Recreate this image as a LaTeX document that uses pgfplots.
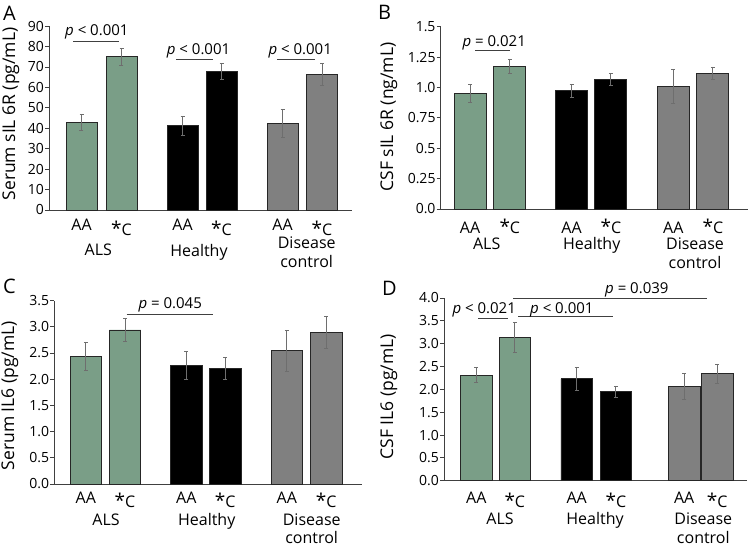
\documentclass[border=0pt]{standalone}
\usepackage{pgfplots}
\pgfplotsset{compat=1.18}
\usepackage{fontspec}
\setmainfont{Open Sans}
\definecolor{grn}{HTML}{7A9E87}
\definecolor{gry}{HTML}{808080}
\definecolor{axc}{HTML}{404040}
\definecolor{errc}{HTML}{6E6E6E}
\newcommand{\sC}[1]{\raisebox{-#1pt}[\height][0pt]{{\fontsize{19}{19}\selectfont *}{\fontsize{16}{16}\selectfont C}}}
\newcommand{\pt}[1]{\fontsize{15}{15}\selectfont #1}
\pgfplotsset{
  panel/.style={
    x=1pt, anchor=south west, clip=false,
    axis x line*=bottom, axis y line*=left,
    axis line style={axc, line width=0.9pt},
    ymin=0,
    xtick style={draw=none},
    ytick style={axc, line width=0.8pt},
    tick align=outside, major tick length=4pt,
    yticklabel style={font=\fontsize{14}{14}\selectfont, inner sep=1pt},
    xticklabel style={font=\fontsize{16}{16}\selectfont, anchor=base, inner sep=0pt},
    ybar, bar shift=0pt,
    every axis plot/.append style={draw=black!85, line width=0.8pt},
    error bars/y dir=both, error bars/y explicit,
    error bars/error bar style={errc, line width=0.7pt},
    error bars/error mark options={errc, line width=0.7pt, mark size=2pt, rotate=90},
  },
}
\begin{document}
\begin{tikzpicture}
\useasboundingbox (0,0) rectangle (750pt,548pt);
% ---------------- A
\begin{axis}[panel, at={(49pt,338pt)}, y=2.044pt, xmin=49, xmax=352, ymax=90,
  ytick={0,10,...,90}, yticklabels={0,10,20,30,40,50,60,70,80,90},
  xtick={81.5,121.5,182.5,221.5,282.5,322}, xticklabels={AA,\sC{5.5},AA,\sC{5.5},AA,\sC{5.5}},
  xticklabel style={yshift=-16.5pt}, bar width=31]
\addplot[fill=grn] coordinates {(81.5,42.9) +- (0,3.7) (121.5,75.0) +- (0,4.0)};
\addplot[fill=black] coordinates {(182.5,41.2) +- (0,4.5) (221.5,67.7) +- (0,3.9)};
\addplot[fill=gry] coordinates {(282.5,42.4) +- (0,7.0) (322,66.4) +- (0,5.5)};
\draw[axc, line width=0.9pt] (axis cs:73,82.3) -- (axis cs:119,82.3);
\draw[axc, line width=0.9pt] (axis cs:176,73.7) -- (axis cs:213,73.7);
\draw[axc, line width=0.9pt] (axis cs:277,73.7) -- (axis cs:315,73.7);
\node[anchor=base west, inner sep=0pt] at (axis cs:65,85.6) {\pt{\textit{p} < 0.001}};
\node[anchor=base west, inner sep=0pt] at (axis cs:166.7,76.2) {\pt{\textit{p} < 0.001}};
\node[anchor=base west, inner sep=0pt] at (axis cs:268.3,76.2) {\pt{\textit{p} < 0.001}};
\end{axis}
% ---------------- B
\begin{axis}[panel, at={(440.7pt,339pt)}, y=121.5pt, xmin=440.7, xmax=748, ymax=1.5,
  ytick={0,0.25,0.5,0.75,1,1.25,1.5}, yticklabels={0.0,0.25,0.5,0.75,1.0,1.25,1.5},
  xtick={470,509.8,571.5,610.8,673.3,712.8}, xticklabels={AA,\sC{0},AA,\sC{0},AA,\sC{0}},
  xticklabel style={yshift=-20.3pt}, bar width=32]
\addplot[fill=grn] coordinates {(470,0.952) +- (0,0.075) (509.8,1.174) +- (0,0.058)};
\addplot[fill=black] coordinates {(571.5,0.974) +- (0,0.052) (610.8,1.064) +- (0,0.05)};
\addplot[fill=gry] coordinates {(673.3,1.010) +- (0,0.14) (712.8,1.119) +- (0,0.05)};
\draw[axc, line width=0.9pt] (axis cs:475,1.303) -- (axis cs:510,1.303);
\node[anchor=base west, inner sep=0pt] at (axis cs:462.3,1.336) {\pt{\textit{p} = 0.021}};
\end{axis}
% ---------------- C
\begin{axis}[panel, at={(54.3pt,64pt)}, y=52.4pt, xmin=54.3, xmax=361.7, ymax=3.5,
  ytick={0,0.5,...,3.5}, yticklabels={0.0,0.5,1.0,1.5,2.0,2.5,3.0,3.5},
  xtick={85.8,125,186.3,225.2,286.8,326.2}, xticklabels={AA,\sC{4},AA,\sC{4},AA,\sC{4}},
  xticklabel style={yshift=-16pt}, bar width=31.5]
\addplot[fill=grn] coordinates {(85.8,2.43) +- (0,0.27) (125,2.94) +- (0,0.22)};
\addplot[fill=black] coordinates {(186.3,2.26) +- (0,0.27) (225.2,2.21) +- (0,0.21)};
\addplot[fill=gry] coordinates {(286.8,2.54) +- (0,0.39) (326.2,2.89) +- (0,0.30)};
\draw[axc, line width=0.9pt] (axis cs:126.7,3.23) -- (axis cs:213.3,3.23);
\node[anchor=base west, inner sep=0pt] at (axis cs:138.3,3.34) {\pt{\textit{p} = 0.045}};
\end{axis}
% ---------------- D
\begin{axis}[panel, at={(444pt,67.3pt)}, y=45.67pt, xmin=444, xmax=746.7, ymax=4,
  ytick={0,0.5,...,4}, yticklabels={0.0,0.5,1.0,1.5,2.0,2.5,3.0,3.5,4.0},
  xtick={476.3,514.8,576.7,615.8,684.2,717.2}, xticklabels={AA,\sC{4},AA,\sC{4},AA,\sC{4}},
  xticklabel style={yshift=-18.6pt}, bar width=31.5]
\addplot[fill=grn] coordinates {(476.3,2.31) +- (0,0.165) (514.8,3.14) +- (0,0.32)};
\addplot[fill=black] coordinates {(576.7,2.23) +- (0,0.25) (615.8,1.95) +- (0,0.12)};
\addplot[fill=gry] coordinates {(684.2,2.07) +- (0,0.28) (717.2,2.34) +- (0,0.215)};
\draw[axc, line width=0.9pt] (axis cs:513,4.0) -- (axis cs:706.7,4.0);
\draw[axc, line width=0.9pt] (axis cs:478,3.55) -- (axis cs:508,3.55);
\draw[axc, line width=0.9pt] (axis cs:518,3.6) -- (axis cs:613,3.6);
\node[anchor=base west, inner sep=0pt] at (axis cs:605,4.09) {\pt{\textit{p} = 0.039}};
\node[anchor=base west, inner sep=0pt] at (axis cs:452.3,3.65) {\pt{\textit{p} < 0.021}};
\node[anchor=base west, inner sep=0pt] at (axis cs:530,3.65) {\pt{\textit{p} < 0.001}};
\end{axis}
% ---------------- labels
\begin{scope}[every node/.style={font=\fontsize{16}{16}\selectfont, anchor=base, inner sep=0pt}]
\node at (98.3pt,292pt) {ALS};
\node at (199pt,291.3pt) {Healthy};
\node at (306.7pt,299.3pt) {Disease};
\node at (306.7pt,280.6pt) {control};
\node at (486.7pt,298.7pt) {ALS};
\node at (591.7pt,298.7pt) {Healthy};
\node at (695pt,298.7pt) {Disease};
\node at (695pt,279.7pt) {control};
\node at (106pt,22.3pt) {ALS};
\node at (206.7pt,22.3pt) {Healthy};
\node at (311.7pt,22.3pt) {Disease};
\node at (311.7pt,4pt) {control};
\node at (500pt,23pt) {ALS};
\node at (595pt,23pt) {Healthy};
\node at (703.3pt,23pt) {Disease};
\node at (703.3pt,4pt) {control};
\end{scope}
\begin{scope}[every node/.style={font=\fontsize{17.5}{17.5}\selectfont, rotate=90, anchor=center, inner sep=0pt}]
\node at (11pt,434pt) {Serum sIL 6R (pg/mL)};
\node at (389pt,431pt) {CSF sIL 6R (ng/mL)};
\node at (10pt,152.3pt) {Serum IL6 (pg/mL)};
\node at (389pt,151pt) {CSF IL6 (pg/mL)};
\end{scope}
\begin{scope}[every node/.style={font=\fontsize{20}{20}\selectfont, anchor=base west, inner sep=0pt}]
\node at (3pt,527.3pt) {A};
\node at (378pt,528pt) {B};
\node at (3pt,254.7pt) {C};
\node at (382pt,252.3pt) {D};
\end{scope}
\end{tikzpicture}
\end{document}
